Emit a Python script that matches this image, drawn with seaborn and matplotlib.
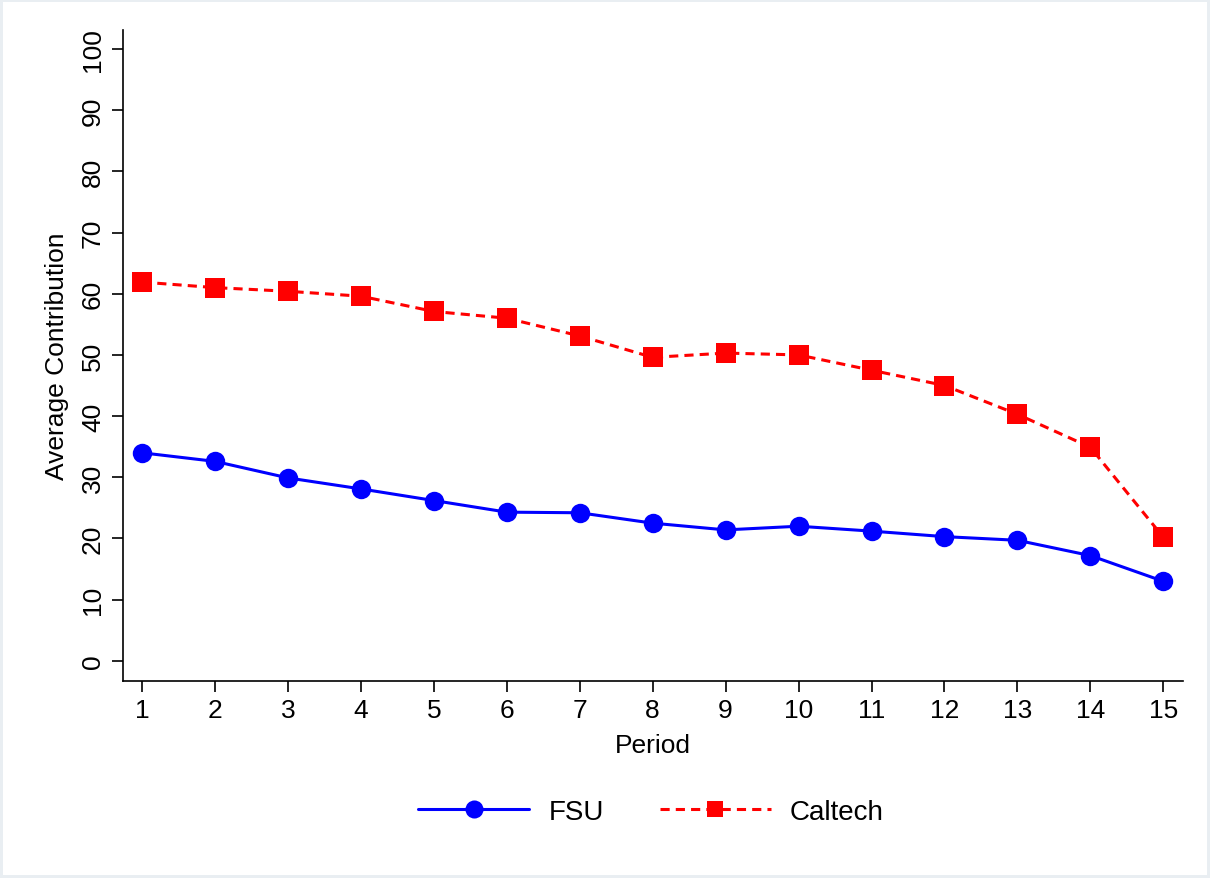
import pandas as pd
import matplotlib.pyplot as plt
import seaborn as sns
from matplotlib.lines import Line2D

# Dados

period = list(range(1, 16))
fsu = [34.0, 32.6, 29.9, 28.1, 26.2, 24.3, 24.2, 22.5, 21.4, 22.0, 21.2, 20.3, 19.7, 17.2, 13.0]
caltech = [61.9, 61.0, 60.4, 59.6, 57.1, 56.0, 53.1, 49.6, 50.3, 50.0, 47.5, 45.0, 40.3, 34.9, 20.2]
groups = ['FSU', 'Caltech']
colors = {'FSU': 'blue', 'Caltech': 'red'}
markers = {'FSU': 'o', 'Caltech': 's'}

df = pd.DataFrame({
    'Period': period * 2,
    'Contribution': fsu + caltech,
    'Group': ['FSU'] * len(fsu) + ['Caltech'] * len(caltech),
})

sns.set_style('ticks')
plt.rcParams['font.family'] = ['Liberation Sans', 'DejaVu Sans']
plt.rcParams['text.color'] = 'black'
plt.rcParams['axes.labelcolor'] = 'black'

fig = plt.figure(figsize=(12.1, 8.79), dpi=100)
fig.patch.set_edgecolor('#e9eef2')
fig.patch.set_linewidth(3)
ax = fig.add_axes([0.1017, 0.2241, 0.876, 0.7406])

sns.lineplot(data=df, x='Period', y='Contribution', hue='Group', style='Group',
             hue_order=groups, style_order=groups, palette=colors, markers=markers,
             dashes={'FSU': '', 'Caltech': (3, 2)}, markersize=14, markeredgewidth=0,
             linewidth=2.2, legend=False, ax=ax)

ax.set_xlim(0.74, 15.27)
ax.set_ylim(-3.3, 103.1)
ax.set_xticks(period)
ax.set_yticks(range(0, 101, 10))
ax.tick_params(axis='both', labelsize=19, length=8, width=1.2, colors='black')
ax.tick_params(axis='x', pad=4)
ax.tick_params(axis='y', labelrotation=90, pad=5)
for lab in ax.get_yticklabels():
    lab.set_va('center')
ax.set_xlabel('Period', fontsize=19, labelpad=8)
ax.set_ylabel('Average Contribution', fontsize=19, labelpad=9)
sns.despine(ax=ax)
for s in ['left', 'bottom']:
    ax.spines[s].set_linewidth(1.2)
    ax.spines[s].set_color('black')

handles = [
    Line2D([], [], color='blue', lw=2.2, marker='o', markersize=13, markeredgewidth=0),
    Line2D([], [], color='red', lw=2.2, ls=(0, (3, 2)), marker='s', markersize=12, markeredgewidth=0),
]
fig.legend(handles, groups, loc='center', bbox_to_anchor=(0.538, 0.075), ncol=2,
           frameon=False, fontsize=20, handlelength=4.0, columnspacing=2.0, handletextpad=0.7)

fig.savefig('out.png', dpi=100)
